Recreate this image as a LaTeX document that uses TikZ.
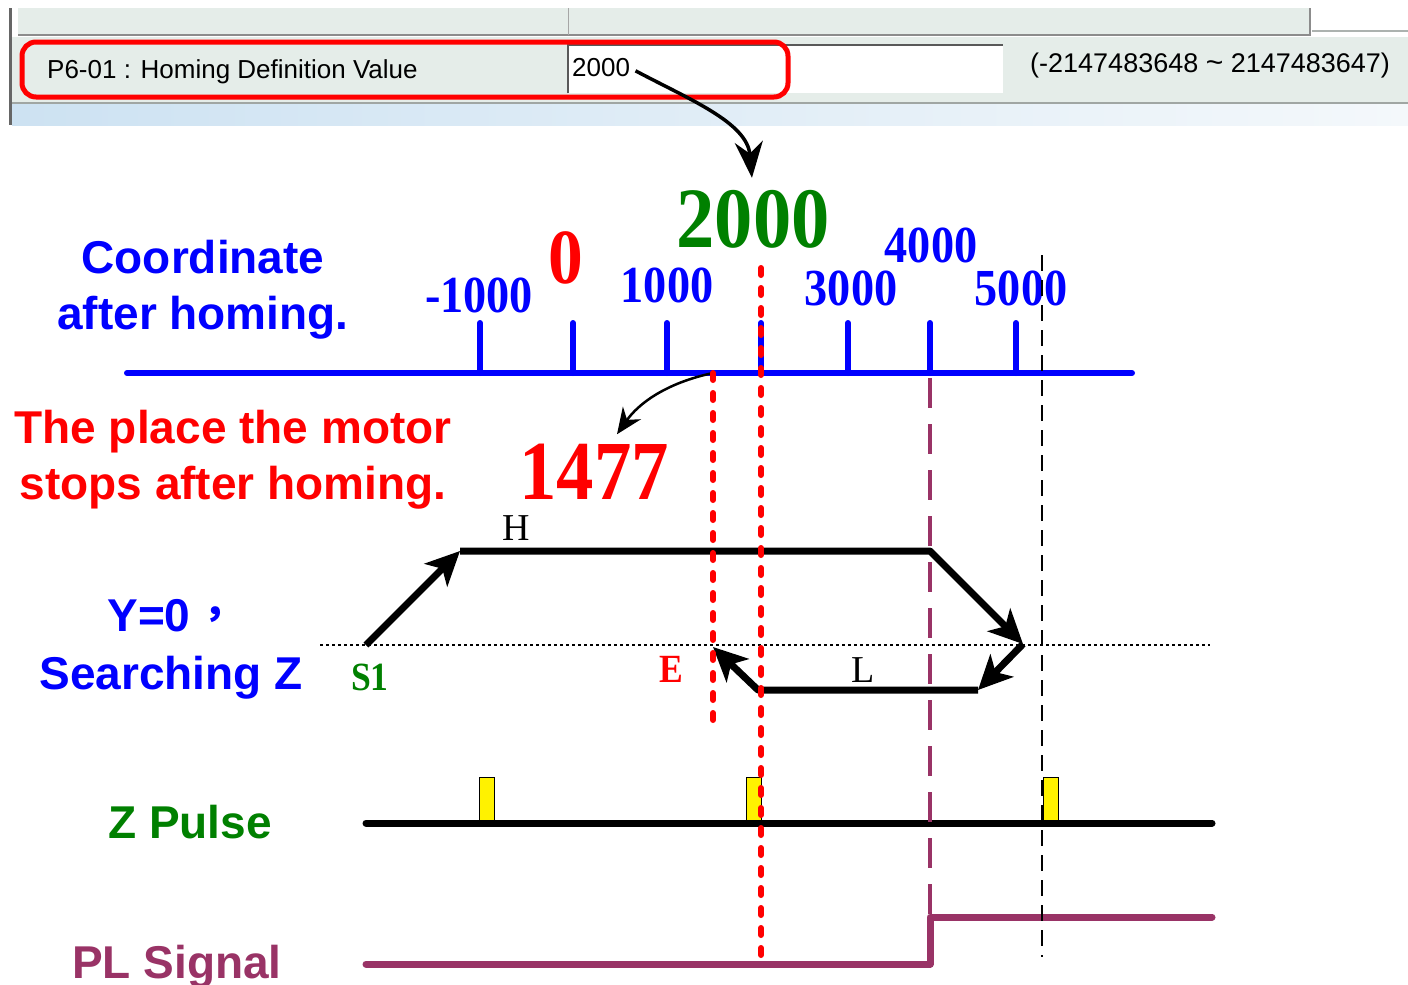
\documentclass[tikz,border=0pt]{standalone}
\usepackage{fontspec}
\setmainfont{Liberation Serif}
\setsansfont{Liberation Sans}
\newfontfamily\numfont[FakeStretch=0.89]{Liberation Serif}
\newfontfamily\cjk{Noto Sans CJK SC}
\usetikzlibrary{arrows.meta, positioning, calc}
\definecolor{plsig}{RGB}{153,51,102}
\definecolor{zgreen}{RGB}{0,128,0}
\definecolor{panel}{RGB}{229,237,233}
\definecolor{bandl}{RGB}{205,226,242}
\definecolor{bandr}{RGB}{244,248,251}
\newcommand{\fsz}[1]{\fontsize{#1}{#1}\selectfont}
\tikzset{
  lbl/.style={font=\sffamily\bfseries\fontsize{46}{56}\selectfont, inner sep=0pt, align=center},
  num/.style={font=\numfont\bfseries\fsz{52}, text=blue, inner sep=0pt},
  scr/.style={font=\sffamily\fsz{26}, inner sep=0pt, anchor=west},
  axisline/.style={blue, line width=6pt, line cap=round},
  stopline/.style={red, line width=6pt, line cap=round, dash pattern=on 7pt off 13pt},
  track/.style={line width=7pt, line join=round, -{Stealth[length=34pt, width=32pt, inset=9pt]}},
  sigline/.style={line width=7pt, line cap=round}
}
\begin{document}
\begin{tikzpicture}[x=1pt, y=-1pt, >=Stealth]
  \useasboundingbox (0,0) rectangle (1408,985);
  % Screenshot strip
  \shade[left color=bandl, right color=bandr] (12,103) rectangle (1408,125);
  \fill[panel] (18,8) rectangle (1310,35);
  \draw[black!45, line width=1.5pt] (18,35) -- (1310,35) -- (1310,8);
  \draw[black!35, line width=1pt] (568,8) -- (568,35);
  \fill[panel] (12,37) rectangle (1408,103);
  \draw[black!25!panel, line width=1.5pt] (1312,31) -- (1408,31);
  \draw[black!30!panel, line width=2pt] (12,103) -- (1408,103);
  \draw[black!60, line width=3pt] (10,8) -- (10,125);
  \node[fill=white, minimum width=435pt, minimum height=48pt, anchor=north west, inner sep=0pt] (field) at (568,45) {};
  \draw[black!65, line width=2pt] (field.south west) -- (field.north west) -- (field.north east);
  \node[scr] (par) at (47,72) {P6-01 : Homing Definition Value};
  \node[scr] (val) at (572,68) {2000};
  \node[scr, font=\sffamily\fsz{27}] (rng) at (1030,66) {(-2147483648 {\fsz{30}\textasciitilde} 2147483647)};
  \draw[red, line width=5pt, rounded corners=14pt] (22,42) rectangle (788,97);
  % Coordinate axis
  \node[font=\numfont\bfseries\fsz{86}, text=zgreen, inner sep=0pt] (def) at (753,219) {2000};
  \draw[line width=3.5pt, -{Stealth[length=36pt, width=28pt]}, shorten <=6pt, shorten >=12pt]
    (val.east) to[out=-28, in=95] (def.north);
  \draw[axisline] (127,373) -- (1132,373);
  \foreach \x in {480,573,667,761,848,930,1016}
    \draw[axisline] (\x,323) -- (\x,373);
  \node[num] (nm1) at (479,295) {-1000};
  \node[num, text=red, font=\numfont\bfseries\fsz{78}] (n0) at (566,258) {0};
  \node[num] (n1) at (667,285) {1000};
  \node[num] (n3) at (851,288) {3000};
  \node[num] (n4) at (931,245) {4000};
  \node[num] (n5) at (1021,288) {5000};
  \node[lbl, text=blue, anchor=north] (coordlab) at (203,240) {Coordinate\\after homing.};
  % Stop position
  \coordinate (stop) at (713,373);
  \node[lbl, text=red, anchor=north] (stoplab) at (233,410) {The place the motor\\stops after homing.};
  \node[font=\numfont\bfseries\fsz{84}, text=red, inner sep=0pt] (n1477) at (594,472) {1477};
  \draw[line width=2.5pt, -{Stealth[length=26pt, width=22pt]}, shorten >=12pt]
    (stop) to[out=192, in=55] (n1477.60);
  % Homing track
  \draw[line width=1.5pt, dash pattern=on 3pt off 3pt] (320,645) -- (1210,645);
  \coordinate (S1) at (366,645);
  \coordinate (H0) at (460,551);
  \coordinate (H1) at (930,551);
  \coordinate (R) at (1023,644);
  \coordinate (L0) at (978,690);
  \coordinate (L1) at (758,690);
  \coordinate (E) at (713,647);
  \draw[track] (S1) -- (H0);
  \draw[track] (H0) -- (H1) -- (R);
  \draw[track] (R) -- (L0);
  \draw[track] (L0) -- (L1) -- (E);
  \node[font=\fsz{38}, inner sep=0pt, anchor=base] (hlab) at (516,540) {H};
  \node[font=\fsz{38}, inner sep=0pt, anchor=base] (llab) at (863,682) {L};
  \node[font=\numfont\bfseries\fsz{40}, text=zgreen, inner sep=0pt, anchor=base] (s1lab) at (370,690) {S1};
  \node[font=\numfont\bfseries\fsz{40}, text=red, inner sep=0pt, anchor=base] (elab) at (671,682) {E};
  \node[lbl, text=blue, anchor=base] (ylab) at (149,631) {Y=0};
  \node[font=\cjk\bfseries\fsz{40}, text=blue, inner sep=0pt, anchor=base west] (comma) at (203,616) {，};
  \node[lbl, text=blue, anchor=base] (searchlab) at (171,689) {Searching Z};
  % Z pulse
  \foreach \x in {479,746,1043}
    \draw[fill=yellow, line width=1pt] (\x,777) rectangle ++(15,44);
  \draw[sigline] (366,823) -- (1212,823);
  \node[lbl, text=zgreen, anchor=base] (zlab) at (190,838) {Z Pulse};
  % PL signal
  \draw[sigline, plsig, line join=round] (366,964) -- (930,964) -- (930,917) -- (1212,917);
  \node[lbl, text=plsig, anchor=base] (pllab) at (177,978) {PL Signal};
  % Reference lines
  \draw[plsig, line width=3.5pt, dash pattern=on 30pt off 16pt] (930,378) -- (930,965);
  \draw[line width=2.5pt, dash pattern=on 16pt off 9pt] (1042,255) -- (1042,957);
  \draw[stopline] (761,268) -- (761,962);
  \draw[stopline] (stop) -- (713,725);
\end{tikzpicture}
\end{document}
